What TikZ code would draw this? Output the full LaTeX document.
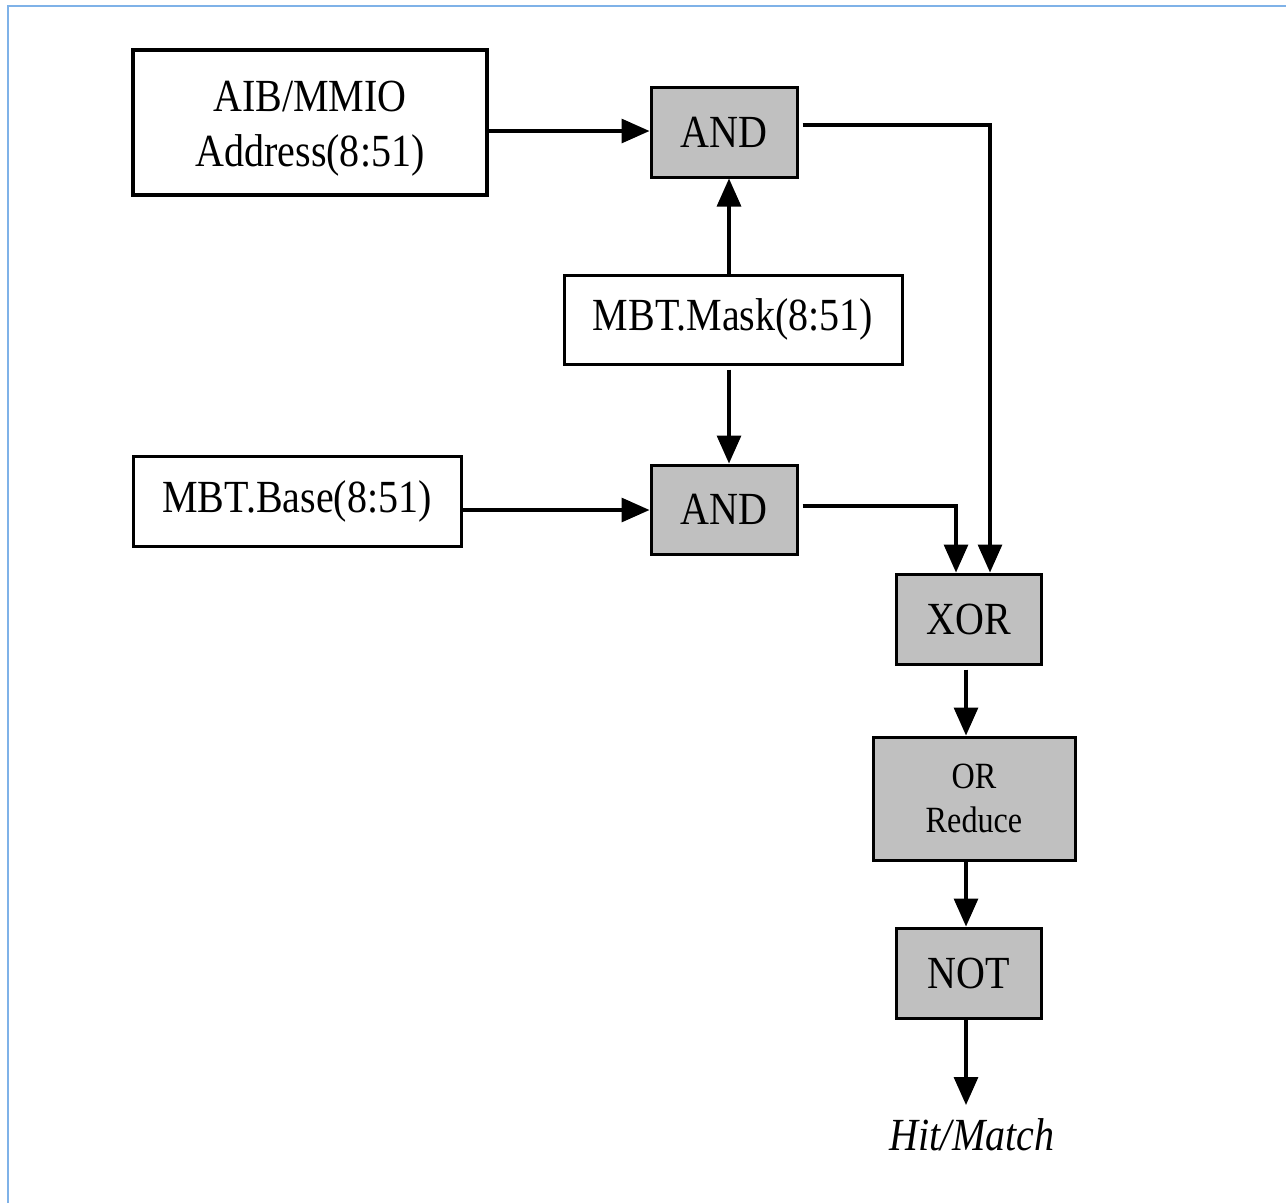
\documentclass[tikz,border=0pt]{standalone}
\usepackage{fontspec}
\setmainfont[FakeStretch=0.87]{Liberation Serif}
\usetikzlibrary{arrows.meta}
\definecolor{gatefill}{HTML}{C0C0C0}
\definecolor{frameblue}{HTML}{7FB2E8}
\begin{document}
\begin{tikzpicture}[x=1pt,y=-1pt,
  box/.style={draw=black,line width=3pt,fill=white,inner sep=0pt,align=center,font=\fontsize{46}{55}\selectfont},
  gate/.style={box,fill=gatefill},
  conn/.style={line width=3.2pt,-{Triangle[width=24pt,length=28pt]}}]
\useasboundingbox (0,0) rectangle (1286,1203);
\draw[frameblue,line width=2.5pt] (8,1203) -- (8,6) -- (1286,6);
% boxes
\node[box,line width=4pt,minimum width=354pt,minimum height=145pt,
  label={[yshift=-6pt,align=center,font=\fontsize{46}{55}\selectfont]center:AIB/MMIO\\Address(8:51)}] (aib) at (310,122.5) {};
\node[gate,minimum width=146pt,minimum height=90pt] (and1) at (724,132) {AND};
\node[box,minimum width=338pt,minimum height=89pt] (mask) at (733,319.5) {MBT.Mask(8:51)};
\node[box,minimum width=328pt,minimum height=90pt] (base) at (297,501) {MBT.Base(8:51)};
\node[gate,minimum width=146pt,minimum height=89pt] (and2) at (724,509.5) {AND};
\node[gate,minimum width=145pt,minimum height=90pt] (xor) at (968.5,619) {XOR};
\node[gate,minimum width=202pt,minimum height=123pt,font=\fontsize{37}{44}\selectfont] (orr) at (974,798.5) {OR\\Reduce};
\node[gate,minimum width=145pt,minimum height=90pt] (not) at (968.5,973) {NOT};
\node[inner sep=0pt,font=\fontsize{46}{55}\selectfont\itshape] (hit) at (972,1135) {Hit/Match};
\coordinate (hitend) at (966,1105);
% connectors
\draw[conn] (aib.east |- 0,131) -- (and1.west |- 0,131);
\draw[conn] (729,275) -- (and1.south -| 729,0);
\draw[conn] (mask.south -| 729,0) ++(0,4) -- (and2.north -| 729,0);
\draw[conn] (base.east |- 0,510) -- (and2.west |- 0,510);
\draw[conn] (and1.east |- 0,125) ++(4,0) -| (xor.north -| 990,0);
\draw[conn] (and2.east |- 0,506) ++(4,0) -| (xor.north -| 956,0);
\draw[conn] (xor.south -| 966,0) ++(0,4) -- (orr.north -| 966,0);
\draw[conn] (orr.south -| 966,0) -- (not.north -| 966,0);
\draw[conn] (not.south -| 966,0) -- (hitend);
\end{tikzpicture}
\end{document}
